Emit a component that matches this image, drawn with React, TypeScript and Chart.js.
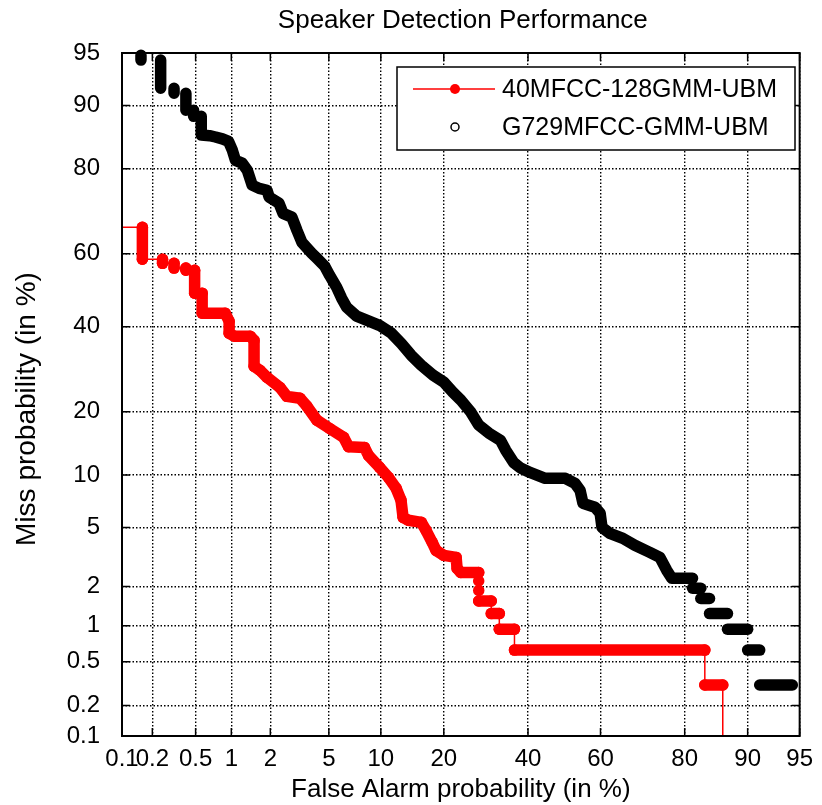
import { useEffect, useRef } from "react";
import { Chart, registerables } from "chart.js";

Chart.register(...registerables);

const TITLE = "Speaker Detection Performance";
const X_TITLE = "False Alarm probability (in %)";
const Y_TITLE = "Miss probability (in %)";

// Tick values (in %) on the normal-deviate axes
const xTicks = [0.1, 0.2, 0.5, 1, 2, 5, 10, 20, 40, 60, 80, 90, 95];
const yTicks = [0.1, 0.2, 0.5, 1, 2, 5, 10, 20, 40, 60, 80, 90, 95];

const seriesNames = ["40MFCC-128GMM-UBM", "G729MFCC-GMM-UBM"];

// 40MFCC-128GMM-UBM: corners of the DET curve (false alarm %, miss %)
const mfccFalseAlarm = [
  0.1, 0.16, 0.16, 0.25, 0.25, 0.32, 0.32, 0.41, 0.41, 0.49,
  0.49, 0.57, 0.57, 0.89, 0.96, 0.96, 1.06, 1.41, 1.51, 1.51,
  1.68, 1.89, 2.35, 2.63, 3.24, 3.6, 4.19, 5.06, 6.16, 6.59,
  8.13, 8.57, 9.82, 10.95, 12.0, 12.7, 13.0, 13.8, 15.9, 16.7,
  17.8, 18.5, 20.0, 22.5, 22.7, 23.5, 27.5, 27.5, 27.5, 27.5,
  30.5, 30.5, 32.5, 32.5, 36.4, 36.4, 83.7, 83.7, 86.6, 86.6,
];
const mfccMiss = [
  66.9, 66.9, 58.5, 58.5, 57.4, 57.4, 56.1, 56.1, 55.5, 55.5,
  49.2, 49.2, 43.7, 43.7, 41.5, 38.3, 37.5, 37.5, 36.4, 29.9,
  28.9, 27.3, 25.0, 23.1, 22.7, 21.1, 18.4, 16.9, 15.4, 13.9,
  13.8, 12.6, 11.0, 9.74, 8.49, 7.27, 5.77, 5.54, 5.38, 4.8,
  4.03, 3.57, 3.3, 3.2, 2.69, 2.52, 2.52, 2.19, 1.87, 1.56,
  1.56, 1.25, 1.25, 0.94, 0.94, 0.63, 0.63, 0.31, 0.31, 0.1,
];

// G729MFCC-GMM-UBM: corners of the DET curve (false alarm %, miss %)
const g729FalseAlarm = [
  0.155, 0.155, 0.24, 0.24, 0.32, 0.32, 0.41, 0.41, 0.48, 0.48,
  0.56, 0.56, 0.66, 0.74, 0.845, 0.95, 1.02, 1.08, 1.22, 1.34,
  1.46, 1.65, 1.89, 1.96, 2.31, 2.47, 2.85, 3.09, 3.34, 3.89,
  4.19, 4.71, 5.06, 5.59, 5.99, 6.42, 7.34, 8.35, 9.82, 11.36,
  12.74, 14.25, 15.87, 17.96, 20.0, 21.8, 23.5, 25.7, 27.5, 29.9,
  32.8, 34.1, 36.2, 38.0, 40.7, 44.7, 50.3, 53.0, 54.4, 55.2,
  58.5, 59.9, 60.4, 62.5, 65.9, 68.9, 72.5, 74.8, 76.3, 77.4,
  81.5, 81.5, 83.0, 83.0, 84.5, 84.5, 87.3, 87.3, 90.0, 90.0,
  91.4, 91.4, 94.45,
];
const g729Miss = [
  94.84, 94.47, 94.47, 91.93, 91.93, 91.4, 91.4, 89.4, 89.4, 88.6,
  88.6, 85.9, 85.8, 85.6, 85.3, 84.9, 83.4, 81.6, 81.1, 79.7,
  76.7, 76.0, 75.6, 74.1, 72.7, 70.3, 69.4, 66.1, 63.0, 60.1,
  58.8, 56.6, 54.1, 50.8, 47.8, 45.3, 42.9, 41.8, 40.4, 38.3,
  35.6, 32.6, 30.2, 27.8, 26.2, 24.0, 22.3, 19.9, 17.5, 16.1,
  14.9, 13.4, 11.6, 10.9, 10.3, 9.61, 9.61, 9.04, 8.27, 6.98,
  6.62, 6.1, 5.01, 4.6, 4.27, 3.85, 3.46, 3.2, 2.61, 2.29,
  2.29, 1.94, 1.94, 1.63, 1.63, 1.25, 1.25, 0.94, 0.94, 0.63,
  0.63, 0.31, 0.31,
];

const FONT = '"Liberation Sans", Arial, Helvetica, sans-serif';
const RED = "#ff0000";
const W = 822;
const H = 805;
const BAND = 11.5;

// Inverse of the standard normal CDF (Acklam's rational approximation)
function invNorm(p: number): number {
  const a = [-3.969683028665376e1, 2.209460984245205e2, -2.759285104469687e2, 1.38357751867269e2, -3.066479806614716e1, 2.506628277459239];
  const b = [-5.447609879822406e1, 1.615858368580409e2, -1.556989798598866e2, 6.680131188771972e1, -1.328068155288572e1];
  const c = [-7.784894002430293e-3, -3.223964580411365e-1, -2.400758277161838, -2.549732539343734, 4.374664141464968, 2.938163982698783];
  const d = [7.784695709041462e-3, 3.224671290700398e-1, 2.445134137142996, 3.754408661907416];
  const pl = 0.02425;
  if (p < pl) {
    const q = Math.sqrt(-2 * Math.log(p));
    return (((((c[0] * q + c[1]) * q + c[2]) * q + c[3]) * q + c[4]) * q + c[5]) / ((((d[0] * q + d[1]) * q + d[2]) * q + d[3]) * q + 1);
  }
  if (p <= 1 - pl) {
    const q = p - 0.5;
    const r = q * q;
    return ((((((a[0] * r + a[1]) * r + a[2]) * r + a[3]) * r + a[4]) * r + a[5]) * q) / (((((b[0] * r + b[1]) * r + b[2]) * r + b[3]) * r + b[4]) * r + 1);
  }
  const q = Math.sqrt(-2 * Math.log(1 - p));
  return -(((((c[0] * q + c[1]) * q + c[2]) * q + c[3]) * q + c[4]) * q + c[5]) / ((((d[0] * q + d[1]) * q + d[2]) * q + d[3]) * q + 1);
}

const probit = (pct: number) => invNorm(pct / 100);

type DetPoint = { x: number; y: number; fa: number; miss: number };

const toPoints = (fa: number[], miss: number[]): DetPoint[] =>
  fa.map((f, i) => ({ x: probit(f), y: probit(miss[i]), fa: f, miss: miss[i] }));

// A step spanning a single trial: markers there are spread apart instead of
// piling up into a solid band (low false-alarm tail / low miss tail).
const isSingleTrialStep = (a?: DetPoint, b?: DetPoint) => {
  if (!a || !b) return false;
  if (a.miss === b.miss) return b.fa < 0.6;
  if (a.fa === b.fa) return a.miss < 2.6;
  return false;
};

const tickFont = { family: FONT, size: 24 };
const TITLE_SIZE = 26;
const YTITLE_SIZE = 28;

const frame = {
  id: "detFrame",
  afterDatasetsDraw(chart: Chart) {
    const { ctx, chartArea: a, scales } = chart;
    const sx = scales.x;
    const sy = scales.y;
    ctx.save();
    ctx.strokeStyle = "#000";
    ctx.lineWidth = 1.5;
    ctx.beginPath();
    const len = 8;
    xTicks.forEach((v) => {
      const px = sx.getPixelForValue(probit(v));
      ctx.moveTo(px, a.bottom);
      ctx.lineTo(px, a.bottom - len);
      ctx.moveTo(px, a.top);
      ctx.lineTo(px, a.top + len);
    });
    yTicks.forEach((v) => {
      const py = sy.getPixelForValue(probit(v));
      ctx.moveTo(a.left, py);
      ctx.lineTo(a.left + len, py);
      ctx.moveTo(a.right, py);
      ctx.lineTo(a.right - len, py);
    });
    ctx.stroke();
    ctx.lineWidth = 2;
    ctx.strokeRect(a.left, a.top, a.right - a.left, a.bottom - a.top);
    ctx.restore();
  },
  afterDraw(chart: Chart) {
    const { ctx, chartArea: a } = chart;
    const cx = (a.left + a.right) / 2;
    ctx.save();
    ctx.fillStyle = "#000";
    ctx.font = `${TITLE_SIZE}px ${FONT}`;
    ctx.textAlign = "center";
    ctx.textBaseline = "middle";
    ctx.fillText(TITLE, cx + 2, 21);
    ctx.fillText(X_TITLE, cx, 790);
    ctx.save();
    ctx.font = `${YTITLE_SIZE}px ${FONT}`;
    ctx.translate(27, 409);
    ctx.rotate(-Math.PI / 2);
    ctx.fillText(Y_TITLE, 0, 0);
    ctx.restore();

    // legend
    const bx = 397, by = 67, bw = 398, bh = 83;
    ctx.fillStyle = "#fff";
    ctx.fillRect(bx, by, bw, bh);
    ctx.strokeStyle = "#000";
    ctx.lineWidth = 1.5;
    ctx.strokeRect(bx, by, bw, bh);
    const r1 = 89, r2 = 127;
    ctx.strokeStyle = RED;
    ctx.lineWidth = 1.5;
    ctx.beginPath();
    ctx.moveTo(413, r1);
    ctx.lineTo(495, r1);
    ctx.stroke();
    ctx.fillStyle = RED;
    ctx.beginPath();
    ctx.arc(455, r1, 5, 0, Math.PI * 2);
    ctx.fill();
    ctx.strokeStyle = "#000";
    ctx.beginPath();
    ctx.arc(455, r2, 4, 0, Math.PI * 2);
    ctx.stroke();
    ctx.fillStyle = "#000";
    ctx.font = `25px ${FONT}`;
    ctx.textAlign = "left";
    ctx.fillText(seriesNames[0], 502, r1 + 1);
    ctx.fillText(seriesNames[1], 502, r2 + 1);
    ctx.restore();
  },
};

export default function App() {
  const canvasRef = useRef<HTMLCanvasElement | null>(null);

  useEffect(() => {
    document.body.style.margin = "0";
    const canvas = canvasRef.current;
    if (!canvas) return;

    const mfccPts = toPoints(mfccFalseAlarm, mfccMiss);
    const g729Pts = toPoints(g729FalseAlarm, g729Miss);

    const axis = (ticks: number[], isX: boolean) => ({
      type: "linear" as const,
      min: probit(0.1),
      max: probit(95),
      afterBuildTicks: (scale: any) => {
        scale.ticks = ticks.map((v) => ({ value: probit(v) }));
      },
      afterFit: (scale: any) => {
        if (isX) scale.height = 69;
        else scale.width = 122;
      },
      ticks: {
        autoSkip: false,
        maxRotation: 0,
        minRotation: 0,
        padding: isX ? 9 : 22,
        color: "#000",
        font: tickFont,
        callback: (_v: any, i: number) => String(ticks[i]),
      },
      grid: { color: "#000", lineWidth: 1.4, drawTicks: false },
      border: { display: false, dash: [1.5, 2] },
    });

    const chart = new Chart(canvas, {
      type: "line",
      data: {
        datasets: [
          {
            label: seriesNames[1],
            data: g729Pts,
            borderColor: "#000",
            borderWidth: BAND,
            borderCapStyle: "round",
            borderJoinStyle: "round",
            pointRadius: 0,
            tension: 0,
            clip: 8,
            segment: {
              borderColor: (c: any) =>
                isSingleTrialStep(g729Pts[c.p0DataIndex], g729Pts[c.p1DataIndex]) ? "rgba(0,0,0,0)" : "#000",
            },
          },
          {
            label: seriesNames[0],
            data: mfccPts,
            borderColor: RED,
            borderWidth: BAND,
            borderCapStyle: "round",
            borderJoinStyle: "round",
            pointRadius: (c: any) => {
              const p = mfccPts[c.dataIndex];
              return p && (p.fa <= 0.1 || p.miss <= 0.1) ? 0 : BAND / 2;
            },
            pointBackgroundColor: RED,
            pointBorderWidth: 0,
            tension: 0,
            clip: 8,
            segment: {
              borderWidth: (c: any) =>
                isSingleTrialStep(mfccPts[c.p0DataIndex], mfccPts[c.p1DataIndex]) ? 1.5 : BAND,
            },
          },
        ],
      },
      options: {
        responsive: false,
        animation: false,
        devicePixelRatio: 1,
        layout: { padding: { top: 53, right: 15, left: 0, bottom: 0 } },
        plugins: { legend: { display: false }, tooltip: { enabled: false }, title: { display: false } },
        events: [],
        scales: {
          x: axis(xTicks, true),
          y: axis(yTicks, false),
        },
      } as any,
      plugins: [frame],
    });

    return () => chart.destroy();
  }, []);

  return (
    <div style={{ width: W, height: H }}>
      <canvas ref={canvasRef} width={W} height={H} style={{ display: "block" }} />
    </div>
  );
}
